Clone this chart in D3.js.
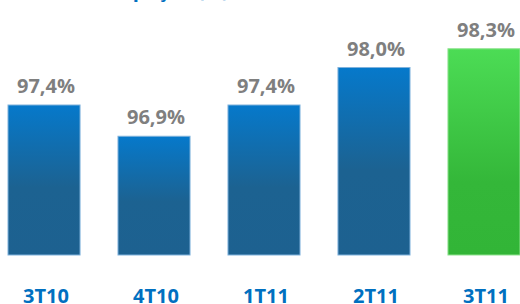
<!DOCTYPE html>
<html>
<head>
<meta charset="utf-8">
<script src="https://cdn.jsdelivr.net/npm/d3@7"></script>
<style>
  body { margin: 0; background: #fff; }
  svg { display: block; font-family: "Open Sans", Lato, sans-serif; }
</style>
</head>
<body>
<svg id="chart" width="520" height="304"></svg>
<script>
// quarters and values (%)
const quarters = ["3T10", "4T10", "1T11", "2T11", "3T11"];
const values = [97.4, 96.9, 97.4, 98.0, 98.3];
const valueLabels = ["97,4%", "96,9%", "97,4%", "98,0%", "98,3%"];
const titleText = "Taxa de ocupação (%)";

svg = d3.select("#chart");
width = 520;
height = 304;

x = d3.scaleBand()
    .domain(quarters)
    .range([8, 520])
    .paddingInner(0.345)
    .paddingOuter(0);

y = d3.scaleLinear()
    .domain([95, 99])
    .range([255, 5]);

defs = svg.append("defs");

blueGrad = defs.append("linearGradient")
    .attr("id", "blueGrad")
    .attr("x1", 0).attr("y1", 0).attr("x2", 0).attr("y2", 1);
blueGrad.append("stop").attr("offset", "0%").attr("stop-color", "#0679cb");
blueGrad.append("stop").attr("offset", "55%").attr("stop-color", "#1c6291");
blueGrad.append("stop").attr("offset", "100%").attr("stop-color", "#1d6190");

greenGrad = defs.append("linearGradient")
    .attr("id", "greenGrad")
    .attr("x1", 0).attr("y1", 0).attr("x2", 0).attr("y2", 1);
greenGrad.append("stop").attr("offset", "0%").attr("stop-color", "#4cdc55");
greenGrad.append("stop").attr("offset", "65%").attr("stop-color", "#34b739");
greenGrad.append("stop").attr("offset", "100%").attr("stop-color", "#32b537");

// title, mostly cut off at the top
svg.append("text")
    .attr("x", 229)
    .attr("y", -3)
    .attr("text-anchor", "end")
    .attr("fill", "#0070c0")
    .style("font-size", "20px")
    .style("font-weight", "bold")
    .text(titleText);

bars = svg.selectAll(".bar")
    .data(quarters)
    .join("rect")
    .attr("class", "bar")
    .attr("x", d => x(d))
    .attr("y", (d, i) => y(values[i]))
    .attr("width", x.bandwidth())
    .attr("height", (d, i) => y(95) - y(values[i]))
    .attr("fill", (d, i) => i === quarters.length - 1 ? "url(#greenGrad)" : "url(#blueGrad)")
    .attr("stroke", (d, i) => i === quarters.length - 1 ? "#8fe28f" : "#7fb2dc")
    .attr("stroke-width", 1);

svg.selectAll(".val")
    .data(quarters)
    .join("text")
    .attr("class", "val")
    .attr("x", d => x(d) + x.bandwidth() / 2 + 2)
    .attr("y", (d, i) => y(values[i]) - 12)
    .attr("text-anchor", "middle")
    .attr("fill", "#7f7f7f")
    .style("font-size", "20px")
    .style("font-weight", "bold")
    .text((d, i) => valueLabels[i]);

svg.selectAll(".cat")
    .data(quarters)
    .join("text")
    .attr("class", "cat")
    .attr("x", d => x(d) + x.bandwidth() / 2 + 2)
    .attr("y", 303)
    .attr("text-anchor", "middle")
    .attr("fill", "#0070c0")
    .style("font-size", "20px")
    .style("font-weight", "bold")
    .text(d => d);
</script>
</body>
</html>
